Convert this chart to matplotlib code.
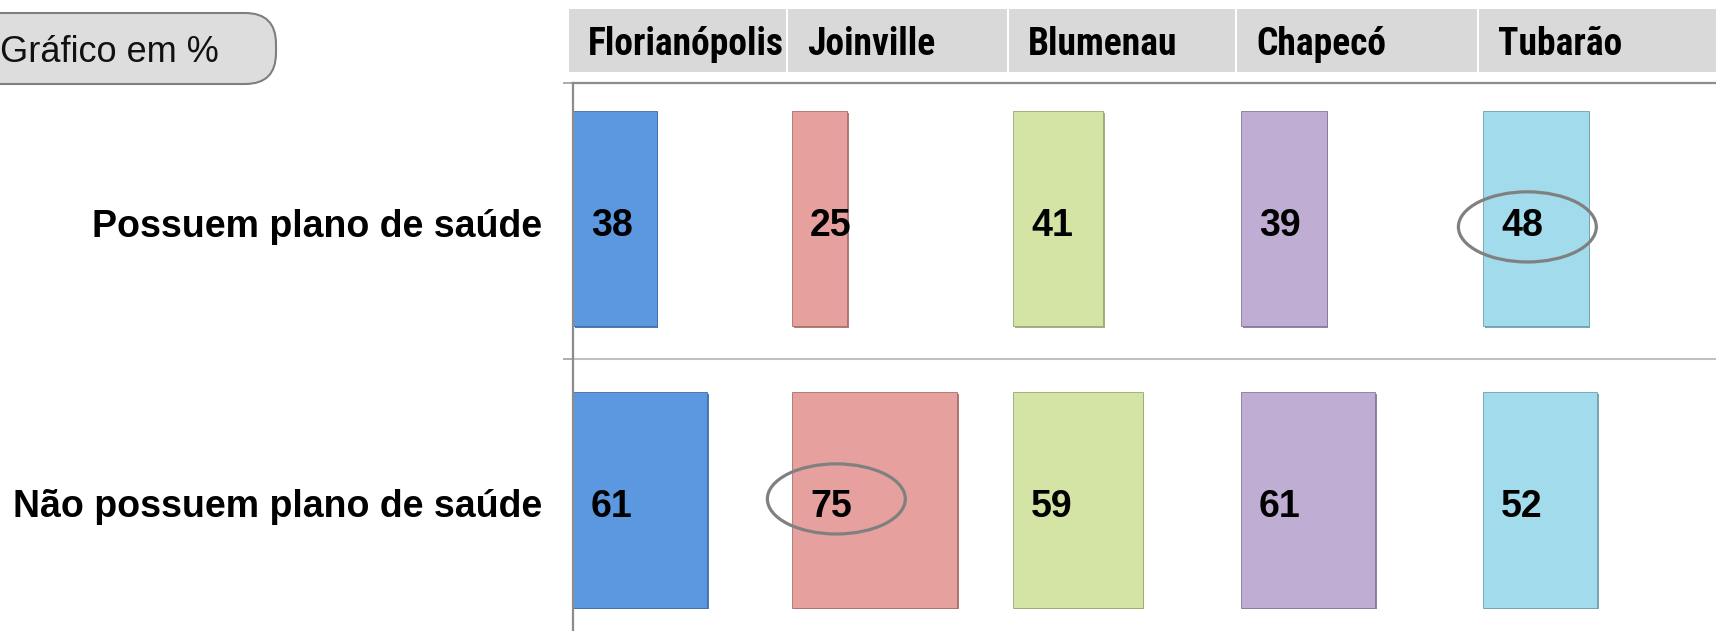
import matplotlib
matplotlib.use("Agg")
import matplotlib.pyplot as plt
from matplotlib import font_manager
from matplotlib.patches import Rectangle, Ellipse, FancyBboxPatch
from matplotlib.transforms import blended_transform_factory
import matplotlib.patheffects as pe

# ---------------- data ----------------
cities = ["Florianópolis", "Joinville", "Blumenau", "Chapecó", "Tubarão"]
row_labels = ["Possuem plano de saúde", "Não possuem plano de saúde"]
possuem = [38, 25, 41, 39, 48]
nao_possuem = [61, 75, 59, 61, 52]
highlights = [("Tubarão", 0), ("Joinville", 1)]  # (city, row) circled values
title_box = "Gráfico em %"

# ---------------- style / layout ----------------
colors = ["#5B98E0", "#E6A19F", "#D3E4A5", "#BFADD4", "#A1DBEC"]
shadows = ["#3F6DA8", "#A86E6C", "#97A872", "#85789A", "#6E9FAE"]
col_left = [0, 99.5, 200, 303.6, 413.6]   # column starting points (value units)
label_dy = [0.028, 0.025]
ellipse_dy = [0.030, -0.004]
W, H, DPI = 1716, 631, 100
plt.rcParams["font.family"] = ["Liberation Sans", "DejaVu Sans"]

names = {f.name for f in font_manager.fontManager.ttflist}
narrow = None
for cand in ["Liberation Sans Narrow", "Arial Narrow", "Roboto Condensed",
             "DejaVu Sans Condensed"]:
    if cand in names:
        narrow = cand
        break
if narrow is not None:
    narrow_family = [narrow, "Liberation Sans", "DejaVu Sans"]
    head_size = 27
else:
    narrow_family = ["Liberation Sans", "DejaVu Sans"]
    head_size = 22

fig = plt.figure(figsize=(W / DPI, H / DPI), dpi=DPI)
ax_left, ax_top = 573, 83
ax = fig.add_axes([ax_left / W, 0, 1 - ax_left / W, (H - ax_top) / H])

xmax = (W - ax_left) / 2.2
ax.set_xlim(0, xmax)
ax.set_ylim(1.465, -0.481)

series = [possuem, nao_possuem]
for r, vals in enumerate(series):
    for c, v in enumerate(vals):
        ax.barh(r, v, left=col_left[c], height=0.764, color=colors[c],
                edgecolor=shadows[c], linewidth=0.6,
                path_effects=[pe.SimplePatchShadow(offset=(1.2, -1.2),
                                                   shadow_rgbFace=shadows[c], alpha=0.9),
                              pe.Normal()])
        ax.text(col_left[c] + 8.2, r + label_dy[r], str(v), ha="left", va="center",
                fontsize=27, fontweight="bold", color="black")

for city, r in highlights:
    c = cities.index(city)
    ax.add_patch(Ellipse((col_left[c] + 20.2, r + ellipse_dy[r]), 62.7, 0.249,
                         fill=False, edgecolor="#808080", linewidth=2.3, zorder=5))

# spines / ticks
for s in ["right", "bottom"]:
    ax.spines[s].set_visible(False)
ax.spines["left"].set_color("#8C8C8C")
ax.spines["left"].set_linewidth(1.6)
ax.spines["top"].set_color("#8C8C8C")
ax.spines["top"].set_linewidth(1.6)
ax.axhline(0.5, color="#C0C0C0", linewidth=1.5)
ax.set_xticks([])
ax.set_yticks([0.015, 1.01])
ax.set_yticklabels(row_labels, fontsize=27, fontweight="bold")
ax.tick_params(axis="y", length=0, pad=22)
ax.set_yticks([-0.481, 0.5], minor=True)
ax.tick_params(axis="y", which="minor", length=7.5, width=1.2, color="#A0A0A0")

# header cells
tr = blended_transform_factory(ax.transData, fig.transFigure)
y_top, y_bot = (H - 9) / H, (H - 72) / H
lefts = [cl - 1.8 for cl in col_left]
rights = [l - 0.9 for l in lefts[1:]] + [xmax]
for c, city in enumerate(cities):
    ax.add_patch(Rectangle((lefts[c], y_bot), rights[c] - lefts[c], y_top - y_bot,
                           transform=tr, clip_on=False, facecolor="#D9D9D9",
                           edgecolor="none"))
    ax.text(col_left[c] + 6.8, (H - 55) / H, city, transform=tr, ha="left",
            va="baseline", fontsize=head_size, fontweight="bold", clip_on=False,
            family=narrow_family)

# "Gráfico em %" box
box = FancyBboxPatch((-30 / W, (H - 84) / H), 306 / W, 71 / H,
                     boxstyle="round,pad=0,rounding_size=0.018",
                     transform=fig.transFigure, facecolor="#DDDDDD",
                     edgecolor="#7F7F7F", linewidth=1.5, mutation_aspect=W / H)
fig.add_artist(box)
fig.text(0 / W, (H - 62) / H, title_box, ha="left", va="baseline",
         fontsize=26, color="#111111")

fig.savefig("out.png", dpi=DPI, facecolor="white")
